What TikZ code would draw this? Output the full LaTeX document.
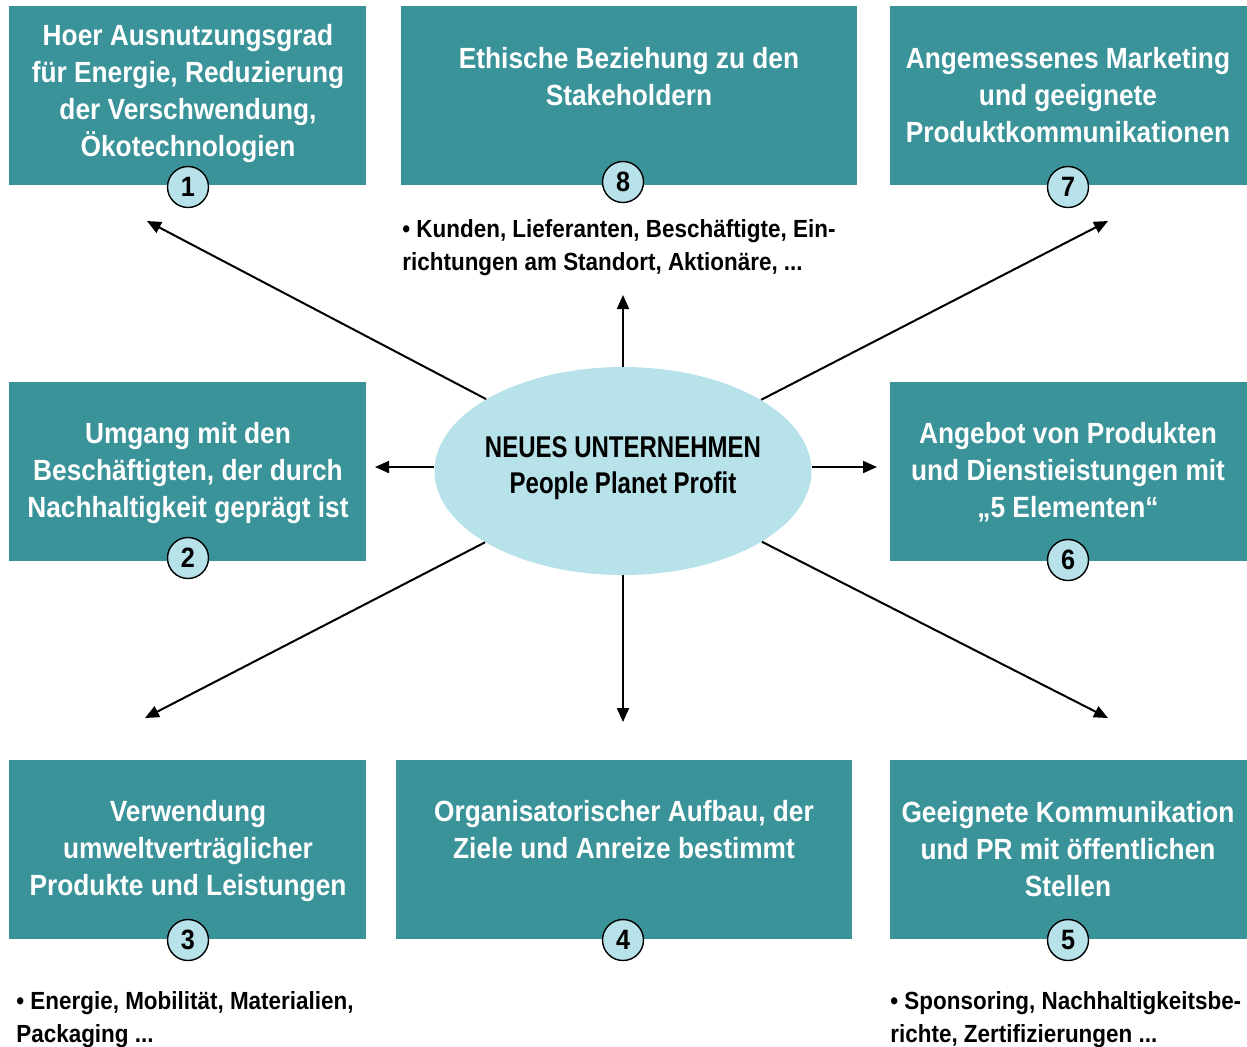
\documentclass[tikz,border=0pt]{standalone}
\usepackage{fontspec}
\setmainfont{Liberation Sans}
\newfontfamily\boxfont{Liberation Sans}[FakeStretch=0.9]
\newfontfamily\ellfont{Liberation Sans}[FakeStretch=0.8]
\newfontfamily\notefont{Liberation Sans}[FakeStretch=0.905]
\usetikzlibrary{shapes.geometric,arrows.meta}
\definecolor{tealbox}{RGB}{58,147,153}
\definecolor{lblue}{RGB}{184,226,234}
\tikzset{
  box/.style={fill=tealbox, draw=none, inner sep=0pt, anchor=north west, minimum height=89.5pt},
  boxtext/.style={text=white, font=\boxfont\fontsize{14.6}{18.5}\selectfont\bfseries, align=center, inner sep=0pt},
  num/.style={circle, fill=lblue, draw=black, line width=0.7pt, minimum size=20.5pt, inner sep=0pt, font=\boxfont\fontsize{14}{14}\selectfont\bfseries},
  note/.style={font=\notefont\fontsize{12.4}{16.2}\selectfont\bfseries, align=left, anchor=base west, inner sep=0pt},
  arr/.style={line width=1pt, -{Triangle[length=7pt,width=6pt]}}
}
\begin{document}
\begin{tikzpicture}[x=0.5pt,y=-0.5pt]
\useasboundingbox (0,0) rectangle (1247,1046);
% boxes
\node[box, minimum width=178.5pt] (b1) at (9,6) {};
\node[box, minimum width=228pt] (b8) at (401,6) {};
\node[box, minimum width=178.5pt] (b7) at (890,6) {};
\node[box, minimum width=178.5pt] (b2) at (9,382) {};
\node[box, minimum width=178.5pt] (b6) at (890,382) {};
\node[box, minimum width=178.5pt] (b3) at (9,760) {};
\node[box, minimum width=228pt] (b4) at (396,760) {};
\node[box, minimum width=178.5pt] (b5) at (890,760) {};
% box texts
\node[boxtext] (t1) at (188,94) {Hoer Ausnutzungsgrad\\für Energie, Reduzierung\\der Verschwendung,\\Ökotechnologien};
\node[boxtext] (t8) at (629,77) {Ethische Beziehung zu den\\Stakeholdern};
\node[boxtext] (t7) at (1068,95) {Angemessenes Marketing\\und geeignete\\Produktkommunikationen};
\node[boxtext] (t2) at (188,473) {Umgang mit den\\Beschäftigten, der durch\\Nachhaltigkeit geprägt ist};
\node[boxtext] (t6) at (1068,472) {Angebot von Produkten\\und Dienstieistungen mit\\„5 Elementen“};
\node[boxtext] (t3) at (188,851) {Verwendung\\umweltverträglicher\\Produkte und Leistungen};
\node[boxtext] (t4) at (624,830) {Organisatorischer Aufbau, der\\Ziele und Anreize bestimmt};
\node[boxtext] (t5) at (1068,849) {Geeignete Kommunikation\\und PR mit öffentlichen\\Stellen};
% number circles
\node[num] (n1) at (188,187) {1};
\node[num] (n8) at (623,182) {8};
\node[num] (n7) at (1068,187) {7};
\node[num] (n2) at (188,558) {2};
\node[num] (n6) at (1068,560) {6};
\node[num] (n3) at (188,940) {3};
\node[num] (n4) at (623,940) {4};
\node[num] (n5) at (1068,940) {5};
% notes (anchor = baseline of last line)
\node[note] (k8) at (402,270) {• Kunden, Lieferanten, Beschäftigte, Ein-\\richtungen am Standort, Aktionäre, ...};
\node[note] (k3) at (16,1042) {• Energie, Mobilität, Materialien,\\Packaging ...};
\node[note] (k5) at (890,1042) {• Sponsoring, Nachhaltigkeitsbe-\\richte, Zertifizierungen ...};
% central ellipse
\node[ellipse, fill=lblue, draw=none, minimum width=188.5pt, minimum height=104pt, inner sep=0pt] (e) at (623,471) {};
\node[font=\ellfont\fontsize{15}{18}\selectfont\bfseries, align=center, inner sep=0pt] (et) at (623,468)
      {NEUES UNTERNEHMEN\\People Planet Profit};
% arrow ends
\coordinate (a1) at (147,221);
\coordinate (a8) at (623,295);
\coordinate (a7) at (1108,221);
\coordinate (a2) at (375,467);
\coordinate (a6) at (877,467);
\coordinate (a3) at (145,718);
\coordinate (a4) at (623,722);
\coordinate (a5) at (1108,718);
\draw[arr] (e) -- (a1);
\draw[arr] (e.north) -- (a8);
\draw[arr] (e) -- (a7);
\draw[arr] (e.west |- a2) -- (a2);
\draw[arr] (e.east |- a6) -- (a6);
\draw[arr] (e) -- (a3);
\draw[arr] (e.south) -- (a4);
\draw[arr] (e) -- (a5);
\end{tikzpicture}
\end{document}
